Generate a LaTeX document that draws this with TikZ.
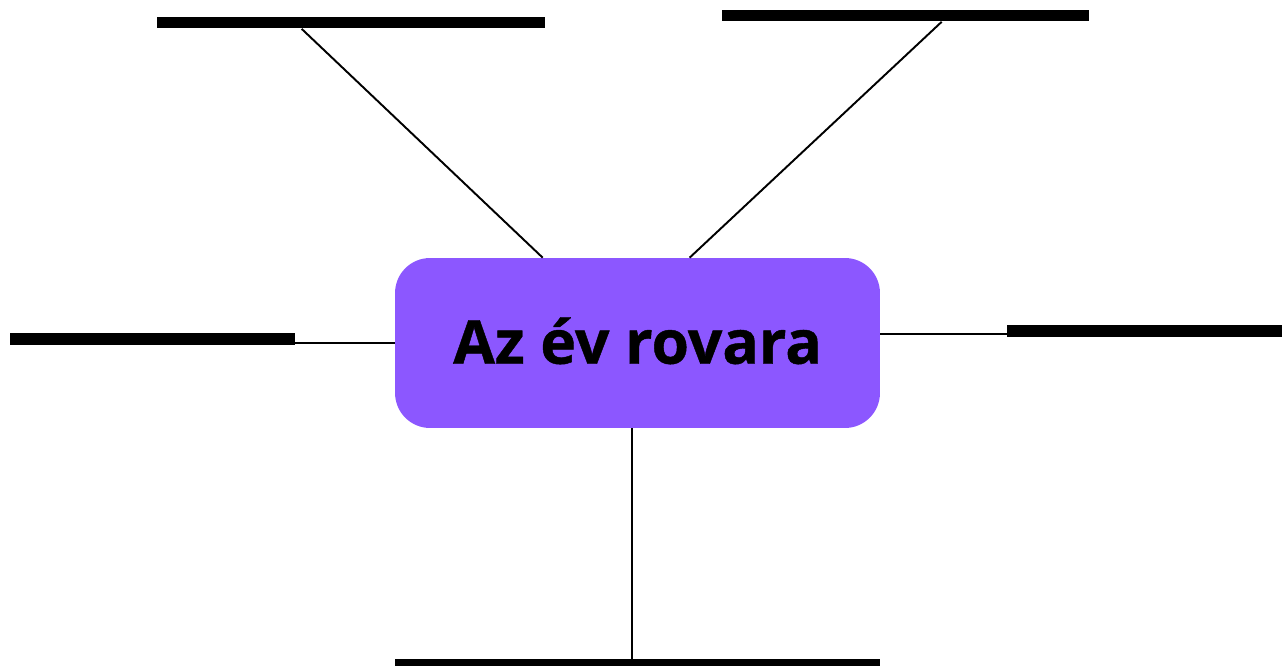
\documentclass[tikz,border=0pt]{standalone}
\usepackage{fontspec}
\newfontfamily\topicfont{Open Sans}[BoldFeatures={FakeBold=0.7}]
\usepackage{tikz}
\usetikzlibrary{positioning}
\definecolor{rovarpurple}{RGB}{140,87,255}
\tikzset{
    bar/.style={fill=black,inner sep=0pt,minimum height=0.24cm},
    link/.style={line width=1.1pt},
    topic/.style={fill=rovarpurple,rounded corners=0.7cm,inner sep=0pt,
        minimum width=9.7cm,minimum height=3.4cm,
        font=\topicfont\bfseries\fontsize{34.5}{40}\selectfont}
}

\begin{document}
\begin{tikzpicture}[x=0.02cm,y=-0.02cm]
    \useasboundingbox (0,0) rectangle (1282,666);

    % Draw centre box
    \node [topic] (topic) at (637.5,343) {\raisebox{0.1cm}{Az év rovara}};

    % Draw bars
    \node [bar,minimum width=7.76cm] (tlbar) at (351,22.5) {};
    \node [bar,minimum width=7.34cm] (trbar) at (905.5,15.5) {};
    \node [bar,minimum width=5.7cm] (lbar) at (152.5,338.5) {};
    \node [bar,minimum width=5.5cm] (rbar) at (1144.5,330.5) {};
    \node [bar,minimum width=9.7cm] (bbar) at (637.5,665) {};

    % connectors
    \draw [link] ([xshift=2.96cm]topic.north west) -- ([xshift=2.9cm]tlbar.south west);
    \draw [link] ([xshift=5.9cm]topic.north west) -- ([xshift=4.4cm]trbar.south west);
    \draw [link] (topic.west) -- (lbar.east |- topic.west);
    \draw [link] ([yshift=0.18cm]topic.east) -- ([yshift=0.18cm]topic.east -| rbar.west);
    \draw [link] ([xshift=-0.11cm]topic.south) -- ([xshift=-0.11cm]bbar.north);
\end{tikzpicture}
\end{document}
